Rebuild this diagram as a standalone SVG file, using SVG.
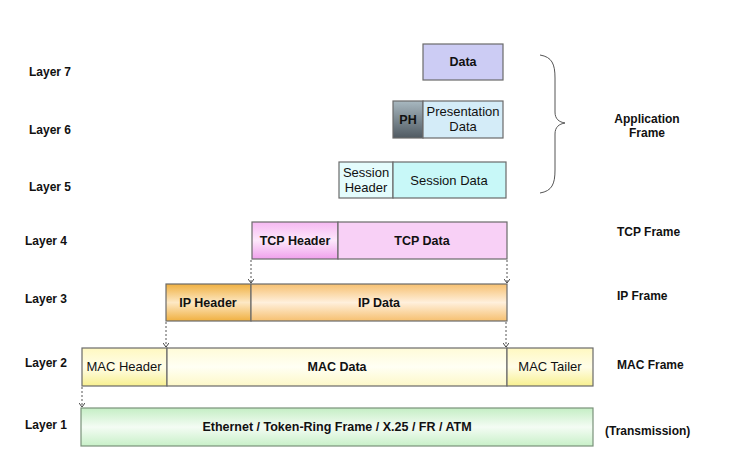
<svg xmlns="http://www.w3.org/2000/svg" width="730" height="469" viewBox="0 0 730 469">
<style>
.lbl{font-family:"Liberation Sans",Arial,sans-serif;font-size:12px;font-weight:bold;fill:#111}
.bx{font-family:"Liberation Sans",Arial,sans-serif;font-size:13px;fill:#111;text-anchor:middle}
.b{font-weight:bold;font-size:12.5px}
.box{stroke:#6a6a6a;stroke-width:1.2}
.con{stroke:#555;stroke-width:1;stroke-dasharray:2,2;fill:none;marker-end:url(#ah)}
</style>
<defs>
<marker id="ah" markerWidth="6" markerHeight="6" refX="5" refY="3" orient="auto" markerUnits="userSpaceOnUse" viewBox="0 0 6 6">
<path d="M1,0 L5,3 L1,6" fill="none" stroke="#444" stroke-width="1"/>
</marker>
<linearGradient id="gPH" x1="0" y1="0" x2="0" y2="1"><stop offset="0" stop-color="#a8b8c0"/><stop offset="1" stop-color="#505a62"/></linearGradient>
<linearGradient id="gTCPH" x1="0" y1="0" x2="0" y2="1"><stop offset="0" stop-color="#f6b8f2"/><stop offset="0.5" stop-color="#fde8fb"/><stop offset="1" stop-color="#f0a0ec"/></linearGradient>
<linearGradient id="gIPH" x1="0" y1="0" x2="0" y2="1"><stop offset="0" stop-color="#f0b040"/><stop offset="0.5" stop-color="#fde8c4"/><stop offset="1" stop-color="#f0b040"/></linearGradient>
<linearGradient id="gIPD" x1="0" y1="0" x2="0" y2="1"><stop offset="0" stop-color="#f6c070"/><stop offset="0.5" stop-color="#fff0dc"/><stop offset="1" stop-color="#f6c070"/></linearGradient>
<linearGradient id="gMACH" x1="0" y1="0" x2="0" y2="1"><stop offset="0" stop-color="#fff8c0"/><stop offset="0.5" stop-color="#fffde8"/><stop offset="1" stop-color="#f8f090"/></linearGradient>
<linearGradient id="gMACD" x1="0" y1="0" x2="0" y2="1"><stop offset="0" stop-color="#fffbd8"/><stop offset="0.5" stop-color="#fffff4"/><stop offset="1" stop-color="#fdf8c8"/></linearGradient>
<linearGradient id="gETH" x1="0" y1="0" x2="0" y2="1"><stop offset="0" stop-color="#c4eec4"/><stop offset="0.5" stop-color="#f4fcf4"/><stop offset="1" stop-color="#c8f0c8"/></linearGradient>
</defs>
<rect width="730" height="469" fill="#fff"/>

<g id="layer-labels">
<text class="lbl" x="29" y="76">Layer 7</text>
<text class="lbl" x="29" y="134">Layer 6</text>
<text class="lbl" x="29" y="191">Layer 5</text>
<text class="lbl" x="25" y="245">Layer 4</text>
<text class="lbl" x="25" y="303">Layer 3</text>
<text class="lbl" x="25" y="367">Layer 2</text>
<text class="lbl" x="25" y="429">Layer 1</text>
</g>

<g id="frame-labels">
<text class="lbl" x="647" y="123" text-anchor="middle">Application</text>
<text class="lbl" x="647" y="137" text-anchor="middle">Frame</text>
<text class="lbl" x="617" y="236">TCP Frame</text>
<text class="lbl" x="617" y="300">IP Frame</text>
<text class="lbl" x="617" y="369">MAC Frame</text>
<text class="lbl" x="605" y="435">(Transmission)</text>
</g>

<g id="brace">
<path d="M540,55 C552,57 555,64 555,78 L555,112 C555,119 559,122 565,123 C559,124 555,127 555,134 L555,170 C555,184 552,191 540,193" fill="none" stroke="#555" stroke-width="1"/>
</g>

<g id="layer7">
<rect class="box" x="423" y="44" width="80" height="36" fill="#ccccf4"/>
<text class="bx b" x="463" y="66">Data</text>
</g>

<g id="layer6">
<rect class="box" x="393" y="101" width="30" height="37" fill="url(#gPH)"/>
<text class="bx b" x="408" y="124">PH</text>
<rect class="box" x="423" y="101" width="80" height="37" fill="#d4ecf8"/>
<text class="bx" x="463" y="116">Presentation</text>
<text class="bx" x="463" y="131">Data</text>
</g>

<g id="layer5">
<rect class="box" x="339" y="162" width="54" height="36" fill="#e4fcfc"/>
<text class="bx" x="366" y="177">Session</text>
<text class="bx" x="366" y="192">Header</text>
<rect class="box" x="393" y="162" width="113" height="36" fill="#c8f8f8"/>
<text class="bx" x="449" y="185">Session Data</text>
</g>

<g id="layer4">
<rect class="box" x="252" y="222" width="86" height="37" fill="url(#gTCPH)"/>
<text class="bx b" x="295" y="245">TCP Header</text>
<rect class="box" x="338" y="222" width="169" height="37" fill="#f8d0f6"/>
<text class="bx b" x="422" y="245">TCP Data</text>
</g>

<g id="layer3">
<rect class="box" x="166" y="284" width="85" height="37" fill="url(#gIPH)"/>
<text class="bx b" x="208" y="307">IP Header</text>
<rect class="box" x="251" y="284" width="256" height="37" fill="url(#gIPD)"/>
<text class="bx b" x="379" y="307">IP Data</text>
</g>

<g id="layer2">
<rect class="box" x="82" y="348" width="85" height="38" fill="url(#gMACH)"/>
<text class="bx" x="124" y="371">MAC Header</text>
<rect class="box" x="167" y="348" width="340" height="38" fill="url(#gMACD)"/>
<text class="bx b" x="337" y="371">MAC Data</text>
<rect class="box" x="507" y="348" width="86" height="38" fill="url(#gMACH)"/>
<text class="bx" x="550" y="371">MAC Tailer</text>
</g>

<g id="layer1">
<rect x="81" y="408" width="512" height="38" fill="url(#gETH)" stroke="#7a927a" stroke-width="1.2"/>
<text class="bx b" x="337" y="431">Ethernet / Token-Ring Frame / X.25 / FR / ATM</text>
</g>

<g id="connectors">
<line class="con" x1="251" y1="260" x2="251" y2="283"/>
<line class="con" x1="507" y1="260" x2="507" y2="283"/>
<line class="con" x1="166" y1="322" x2="166" y2="347"/>
<line class="con" x1="506" y1="322" x2="506" y2="347"/>
<line class="con" x1="82" y1="387" x2="82" y2="407"/>
</g>
</svg>
